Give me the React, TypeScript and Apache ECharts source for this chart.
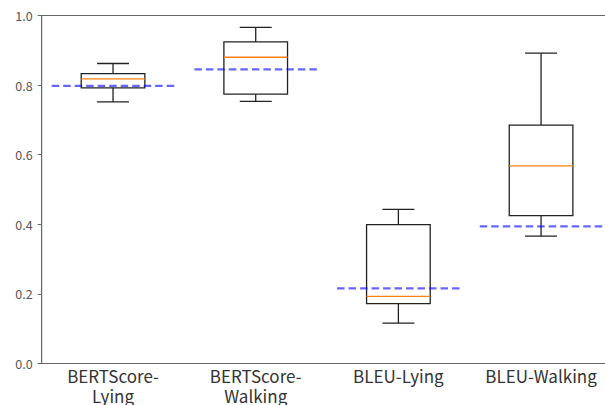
import React, { useEffect, useRef } from "react";
import * as echarts from "echarts";

const categories = ["BERTScore-\nLying", "BERTScore-\nWalking", "BLEU-Lying", "BLEU-Walking"];
const whiskerLow = [0.752, 0.753, 0.116, 0.366];
const q1 = [0.792, 0.774, 0.172, 0.425];
const median = [0.818, 0.88, 0.193, 0.568];
const q3 = [0.833, 0.924, 0.399, 0.685];
const whiskerHigh = [0.862, 0.966, 0.443, 0.892];
const reference = [0.798, 0.845, 0.216, 0.394];
const yTicks = [0, 0.2, 0.4, 0.6, 0.8, 1.0];

const FONT = "'Noto Sans CJK JP', 'Noto Sans', sans-serif";

export default function App() {
  const ref = useRef<HTMLDivElement>(null);
  useEffect(() => {
    if (!ref.current) return;
    const chart = echarts.init(ref.current, null, { renderer: "svg" });
    const boxData = categories.map((_, i) => [i, whiskerLow[i], q1[i], median[i], q3[i], whiskerHigh[i]]);
    const refData = categories.map((_, i) => [i, reference[i]]);
    chart.setOption({
      animation: false,
      backgroundColor: "#ffffff",
      grid: {
        left: 41.7, width: 570.7, top: 15.5, height: 348,
        show: true, borderColor: "#666", borderWidth: 1,
        containLabel: false, outerBoundsMode: "none",
      },
      xAxis: {
        type: "category",
        data: categories,
        boundaryGap: true,
        axisLine: { lineStyle: { color: "#666", width: 1 } },
        axisTick: { alignWithLabel: true, length: 4, lineStyle: { color: "#666" } },
        axisLabel: { color: "#333", fontSize: 17, lineHeight: 20, margin: 2, fontFamily: FONT, interval: 0 },
        splitLine: { show: false },
      },
      yAxis: {
        type: "value",
        min: yTicks[0],
        max: yTicks[yTicks.length - 1],
        interval: 0.2,
        axisLine: { show: true, lineStyle: { color: "#666", width: 1 } },
        axisTick: { show: true, length: 4, lineStyle: { color: "#666" } },
        axisLabel: { color: "#555", fontSize: 12.5, margin: 9, fontFamily: FONT, formatter: (v: number) => v.toFixed(1) },
        splitLine: { show: false },
      },
      series: [
        {
          type: "custom",
          data: boxData,
          encode: { x: 0, y: [1, 2, 3, 4, 5] },
          z: 2,
          clip: false,
          renderItem: (params: any, api: any) => {
            const i = api.value(0);
            const cx = api.coord([i, 0])[0];
            const bw = api.size([1, 0])[0];
            const half = bw * 0.223;
            const cap = bw * 0.112;
            const yLo = api.coord([i, api.value(1)])[1];
            const yQ1 = api.coord([i, api.value(2)])[1];
            const yMed = api.coord([i, api.value(3)])[1];
            const yQ3 = api.coord([i, api.value(4)])[1];
            const yHi = api.coord([i, api.value(5)])[1];
            const black = { stroke: "#222", lineWidth: 1.3, fill: null };
            return {
              type: "group",
              children: [
                { type: "line", shape: { x1: cx, y1: yQ1, x2: cx, y2: yLo }, style: black },
                { type: "line", shape: { x1: cx, y1: yQ3, x2: cx, y2: yHi }, style: black },
                { type: "line", shape: { x1: cx - cap, y1: yLo, x2: cx + cap, y2: yLo }, style: black },
                { type: "line", shape: { x1: cx - cap, y1: yHi, x2: cx + cap, y2: yHi }, style: black },
                { type: "rect", shape: { x: cx - half, y: yQ3, width: 2 * half, height: yQ1 - yQ3 }, style: { stroke: "#222", lineWidth: 1.3, fill: "none" } },
                { type: "line", shape: { x1: cx - half, y1: yMed, x2: cx + half, y2: yMed }, style: { stroke: "#ff7f0e", lineWidth: 1.3 } },
              ],
            };
          },
        },
        {
          type: "custom",
          data: refData,
          encode: { x: 0, y: 1 },
          z: 3,
          clip: false,
          renderItem: (params: any, api: any) => {
            const i = api.value(0);
            const p = api.coord([i, api.value(1)]);
            const bw = api.size([1, 0])[0];
            const hw = bw * 0.43;
            return {
              type: "line",
              shape: { x1: p[0] - hw, y1: p[1], x2: p[0] + hw, y2: p[1] },
              style: { stroke: "rgba(0,0,255,0.6)", lineWidth: 2.2, lineDash: [7.5, 4] },
            };
          },
        },
      ],
    });
    return () => chart.dispose();
  }, []);
  return (
    <div
      ref={ref}
      style={{ position: "absolute", left: 0, top: 0, width: 605, height: 405, background: "#fff" }}
    />
  );
}
